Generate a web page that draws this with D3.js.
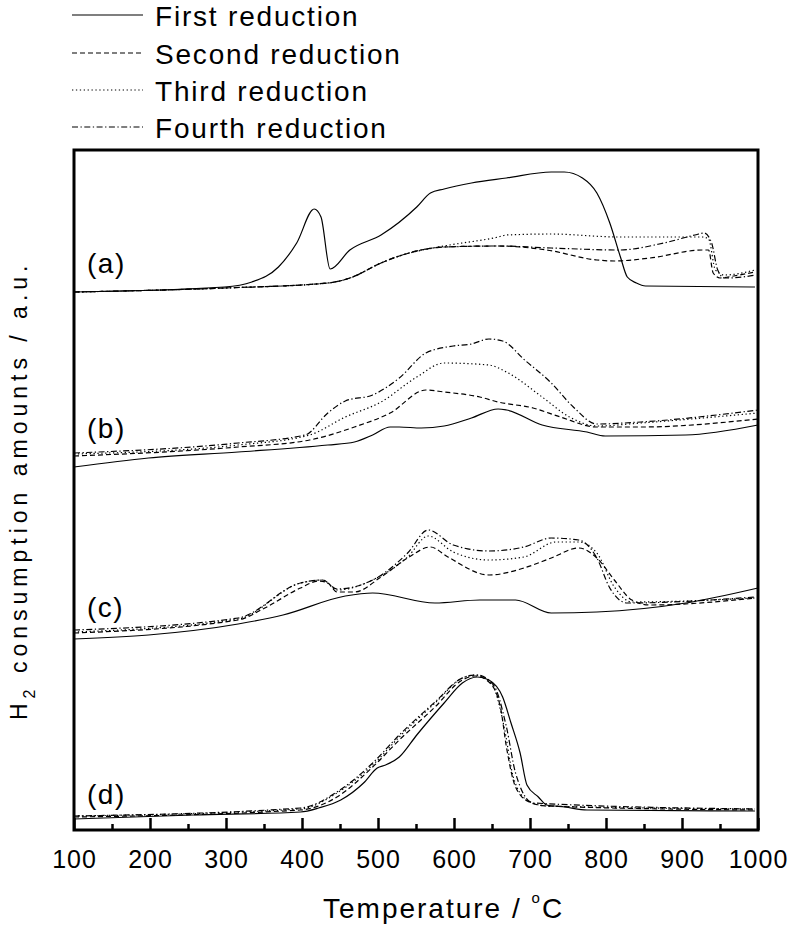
<!DOCTYPE html>
<html><head><meta charset="utf-8">
<script src="https://cdn.jsdelivr.net/npm/d3@7"></script>
<style>
body{margin:0;background:#fff}
text{font-family:Arial,"Liberation Sans",sans-serif;fill:#000}
</style>
</head><body>
<svg id="chart" width="790" height="928"></svg>
<script>
// ---------- data (temperature °C, H2 consumption a.u.) ----------
const xTickValues = [100,200,300,400,500,600,700,800,900,1000];
const xMinorTicks = [150,250,350,450,550,650,750,850,950];
const seriesNames = ["First reduction","Second reduction","Third reduction","Fourth reduction"];
const panelLabels = ["(a)","(b)","(c)","(d)"];

// panel (a)
const a_first  = [[100,536],[298,541],[334,546],[369,561],[393,585],[416,619],[425,611],[437,559],[463,578],[504,593],[551,621],[569,635],[587,639],[623,645],[669,650],[728,656],[745,656],[769,650],[788,635],[805,605],[819,571],[828,551],[840,545],[852,542],[996,541]];
const a_second = [[100,536],[298,540],[434,545],[463,550],[504,565],[528,572],[587,581],[658,582],[722,578],[788,568],[811,567],[858,570],[927,578],[935,578],[941,555],[950,550],[968,552],[996,556]];
const a_third  = [[100,536],[298,540],[434,545],[463,550],[504,565],[528,572],[587,582],[658,591],[669,593],[728,594],[817,591],[927,591],[935,589],[944,558],[956,553],[996,558]];
const a_fourth = [[100,536],[298,540],[434,545],[463,550],[504,565],[528,572],[587,581],[658,582],[728,580],[817,578],[876,585],[917,593],[929,595],[939,585],[947,558],[956,550],[980,551],[996,553]];

// panel (b)
const b_first  = [[100,361],[198,370],[316,376],[434,383],[469,386],[493,393],[516,401],[528,401],[557,400],[587,402],[623,410],[658,419],[669,418],[716,403],[775,396],[799,392],[905,393],[1000,403]];
const b_second = [[100,372],[316,381],[410,388],[469,401],[516,415],[563,438],[587,436],[634,431],[658,426],[704,420],[740,411],[788,401],[846,401],[1000,409]];
const b_third  = [[100,374],[316,383],[410,393],[457,411],[504,426],[551,451],[587,465],[646,463],[669,456],[716,431],[752,411],[788,402],[846,405],[1000,415]];
const b_fourth = [[100,375],[316,385],[404,393],[434,415],[457,427],[493,433],[528,450],[563,475],[599,482],[623,484],[646,489],[664,487],[693,468],[728,445],[757,421],[788,404],[846,406],[1000,418]];

// panel (c)
const c_first  = [[100,189],[198,193],[316,204],[375,213],[457,232],[493,235],[575,225],[634,228],[681,228],[728,215],[788,216],[905,225],[1000,240]];
const c_second = [[100,195],[316,208],[351,220],[398,240],[422,247],[434,245],[446,236],[469,236],[504,251],[539,270],[569,281],[592,271],[646,253],[692,260],[728,270],[764,280],[788,270],[811,248],[834,228],[858,223],[996,230]];
const c_third  = [[100,196],[316,209],[398,245],[427,248],[446,238],[493,248],[539,271],[566,292],[599,276],[646,268],[692,271],[734,286],[764,286],[788,275],[811,241],[834,226],[996,230]];
const c_fourth = [[100,198],[316,210],[398,245],[427,248],[446,239],[493,248],[539,275],[566,298],[599,283],[646,277],[692,281],[728,290],[764,288],[788,270],[805,240],[828,225],[996,231]];

// panel (d)
const d_first  = [[100,9],[257,13],[398,16],[422,20],[451,28],[481,45],[499,60],[510,63],[528,71],[551,93],[587,125],[611,145],[631,151],[646,148],[664,131],[675,105],[687,75],[696,43],[711,31],[722,23],[746,21],[775,18],[996,17]];
const d_second = [[100,11],[398,18],[446,31],[493,61],[528,88],[575,121],[611,148],[628,152],[646,146],[661,121],[669,81],[681,41],[699,26],[722,22],[996,18]];
const d_third  = [[100,12],[398,19],[446,35],[493,63],[528,91],[575,125],[611,150],[628,153],[649,145],[666,101],[678,51],[696,28],[722,22],[996,19]];
const d_fourth = [[100,12],[398,20],[446,36],[493,65],[528,93],[575,126],[611,150],[630,153],[652,143],[669,101],[681,55],[704,25],[996,19]];

const panels = [
  [a_first,a_second,a_third,a_fourth],
  [b_first,b_second,b_third,b_fourth],
  [c_first,c_second,c_third,c_fourth],
  [d_first,d_second,d_third,d_fourth]
];

// ---------- drawing ----------
const dashes = [null,"5,3","1.3,2.6","6,2.5,1.3,2.5"];
const mLeft=74, mRight=758, mTop=150, mBottom=830;

const svg = d3.select("#chart");
const x = d3.scaleLinear().domain([100,1000]).range([mLeft,mRight]);
const y = d3.scaleLinear().domain([-2,678]).range([mBottom,mTop]);

const line = d3.line().x(d=>x(d[0])).y(d=>y(d[1])).curve(d3.curveMonotoneX);

const plot = svg.append("g");
panels.forEach(series=>{
  series.forEach((s,i)=>{
    plot.append("path").datum(s).attr("d",line)
      .attr("fill","none").attr("stroke","#000").attr("stroke-width",1.2)
      .attr("stroke-dasharray",dashes[i]);
  });
});

// minor ticks
svg.append("g").attr("transform",`translate(0,${mBottom})`)
  .call(d3.axisBottom(x).tickValues(xMinorTicks).tickSizeInner(-6).tickSizeOuter(0).tickFormat(""))
  .call(g=>g.select(".domain").remove())
  .call(g=>g.selectAll("line").attr("stroke","#000").attr("stroke-width",2.5));

// major ticks
const ax = svg.append("g").attr("transform",`translate(0,${mBottom})`)
  .call(d3.axisBottom(x).tickValues(xTickValues).tickSizeInner(-12).tickSizeOuter(0).tickFormat(d3.format("d")))
  .call(g=>g.select(".domain").remove())
  .call(g=>g.selectAll("line").attr("stroke","#000").attr("stroke-width",2.5));
ax.attr("font-family",null).attr("font-size",null);
ax.selectAll("text").attr("y",38).attr("dy",null)
  .style("font-size","25px").style("letter-spacing","1px").attr("fill","#000");

// frame
svg.append("rect").attr("x",mLeft).attr("y",mTop).attr("width",mRight-mLeft).attr("height",mBottom-mTop)
  .attr("fill","none").attr("stroke","#000").attr("stroke-width",3);

// panel labels
const labelY=[273,438,617,804];
panelLabels.forEach((t,i)=>{
  svg.append("text").attr("x",87).attr("y",labelY[i]).text(t)
    .style("font-size","28px").style("letter-spacing","1.5px");
});

// legend
const legY=[15,53,90,127];
seriesNames.forEach((n,i)=>{
  svg.append("line").attr("x1",72).attr("x2",143).attr("y1",legY[i]).attr("y2",legY[i])
    .attr("stroke","#000").attr("stroke-width",1.2).attr("stroke-dasharray",dashes[i]);
  svg.append("text").attr("x",155).attr("y",legY[i]+11).text(n)
    .style("font-size","28px").style("letter-spacing","1.8px");
});

// x title
const xt = svg.append("text").attr("x",323).attr("y",918)
  .style("font-size","28px").style("letter-spacing","2px");
xt.append("tspan").text("Temperature / ");
xt.append("tspan").text("o").style("font-size","15px").attr("dy",-15);
xt.append("tspan").text("C").attr("dy",15);

// y title
const yt = svg.append("text").attr("transform","translate(27,720) rotate(-90)")
  .attr("x",0).attr("y",0)
  .style("font-size","23px").style("letter-spacing","5px");
yt.append("tspan").text("H");
yt.append("tspan").text("2").style("font-size","16px").attr("dy",8);
yt.append("tspan").text(" consumption amounts / a.u.").attr("dy",-8);
</script>
</body></html>
